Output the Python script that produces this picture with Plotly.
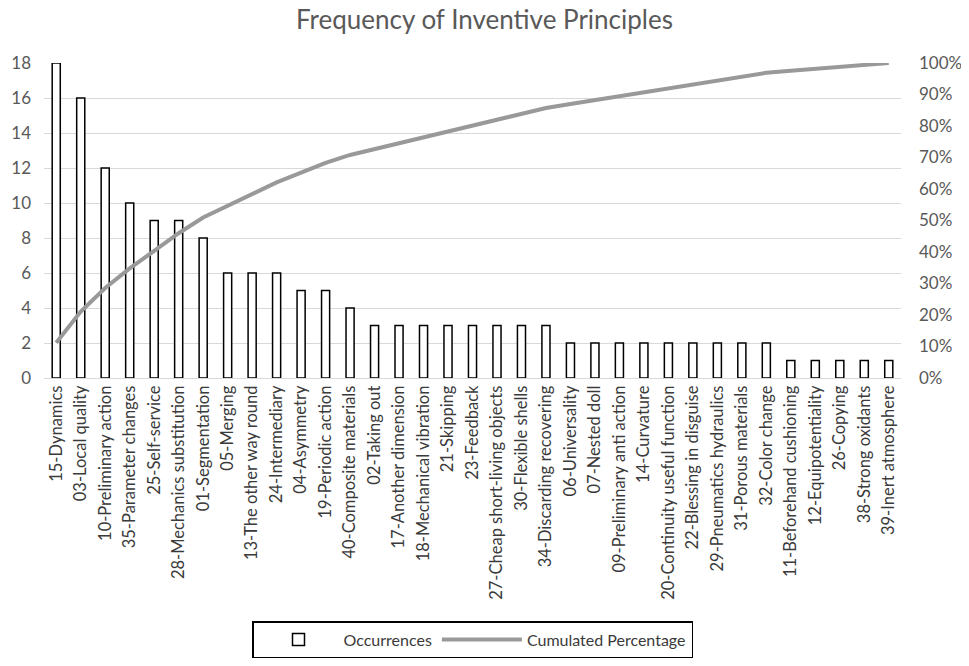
import numpy as np
import plotly.graph_objects as go

categories = [
    "15-Dynamics", "03-Local quality", "10-Preliminary action", "35-Parameter changes",
    "25-Self-service", "28-Mechanics substitution", "01-Segmentation", "05-Merging",
    "13-The other way round", "24-Intermediary", "04-Asymmetry", "19-Periodic action",
    "40-Composite materials", "02-Taking out", "17-Another dimension", "18-Mechanical vibration",
    "21-Skipping", "23-Feedback", "27-Cheap short-living objects", "30-Flexible shells",
    "34-Discarding recovering", "06-Universality", "07-Nested doll", "09-Preliminary anti action",
    "14-Curvature", "20-Continuity useful function", "22-Blessing in disguise",
    "29-Pneumatics hydraulics", "31-Porous materials", "32-Color change",
    "11-Beforehand cushioning", "12-Equipotentiality", "26-Copying", "38-Strong oxidants",
    "39-Inert atmosphere",
]
occurrences = [18, 16, 12, 10, 9, 9, 8, 6, 6, 6, 5, 5, 4, 3, 3, 3, 3, 3, 3, 3, 3,
               2, 2, 2, 2, 2, 2, 2, 2, 2, 1, 1, 1, 1, 1]
left_ticks = [0, 2, 4, 6, 8, 10, 12, 14, 16, 18]
right_ticks = [0, 0.1, 0.2, 0.3, 0.4, 0.5, 0.6, 0.7, 0.8, 0.9, 1.0]

cumulated = np.cumsum(occurrences) / np.sum(occurrences)

FONT = "Lato"
TXT = "#3a3a3a"

fig = go.Figure()
fig.add_trace(go.Bar(
    x=categories, y=occurrences, name="Occurrences",
    marker=dict(color="white", line=dict(color="black", width=1.5)),
    width=0.33,
))
fig.add_trace(go.Scatter(
    x=categories, y=cumulated, name="Cumulated Percentage", yaxis="y2",
    mode="lines", line=dict(color="#999999", width=4),
))

fig.update_layout(
    width=953, height=650,
    margin=dict(l=36, r=60, t=55, b=280),
    paper_bgcolor="white", plot_bgcolor="white",
    font=dict(family=FONT, color=TXT),
    title=dict(text="Frequency of Inventive Principles", x=0.5, xanchor="center",
               y=0.995, yanchor="top", font=dict(size=26, color="#595959", family=FONT)),
    xaxis=dict(tickangle=-90, tickfont=dict(size=16.5, color=TXT), showgrid=False,
               showline=True, linecolor="#d9d9d9", ticks="", automargin=False),
    yaxis=dict(range=[0, 18], tickvals=left_ticks, showgrid=True, gridcolor="#d9d9d9",
               tickfont=dict(size=17, color="#595959"), zeroline=False, automargin=False,
               ticklabelstandoff=12),
    yaxis2=dict(range=[0, 1], tickvals=right_ticks, tickformat=".0%", overlaying="y",
                side="right", showgrid=False, zeroline=False,
                tickfont=dict(size=17, color="#595959"), automargin=False,
                ticklabelstandoff=17),
    legend=dict(orientation="h", x=0.5, xanchor="center", xref="paper",
                y=0.0, yanchor="bottom", yref="container",
                bordercolor="black", borderwidth=1.5, font=dict(size=16, color=TXT),
                itemwidth=80),
    showlegend=True,
)

fig.write_html("out.html")
